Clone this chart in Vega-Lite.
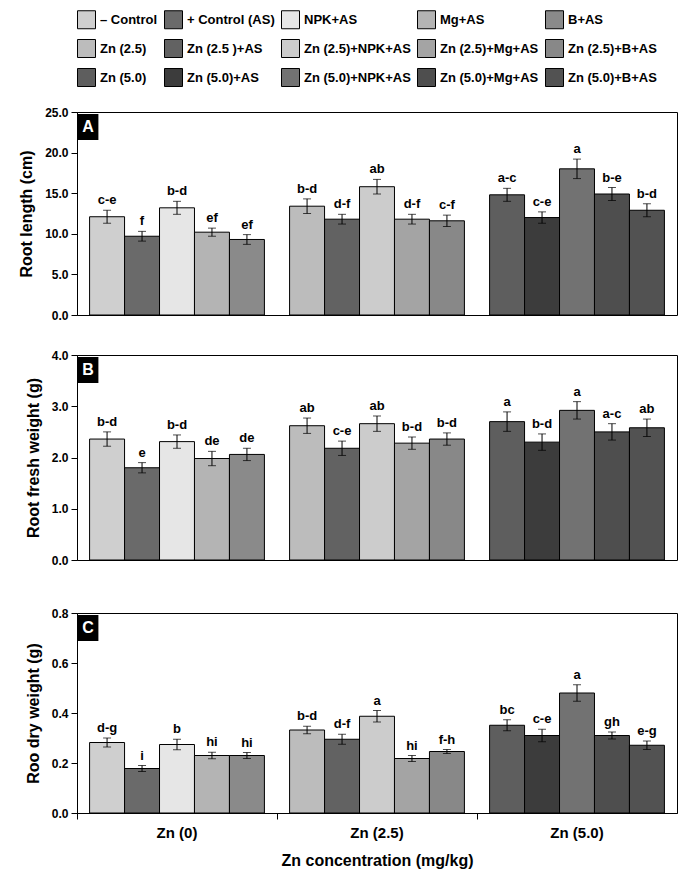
{
"$schema": "https://vega.github.io/schema/vega-lite/v6.json",
"padding": {"left": 18, "top": 10, "right": 5, "bottom": 5},
"autosize": {"type": "pad"},
"background": "#ffffff",
"datasets": {"d": [
{"p":"A","dose":"Zn (0)","trt":"C","combo":"– Control","mean":12.1,"lo":11.3,"hi":12.9,"sig":"c-e"},
{"p":"A","dose":"Zn (0)","trt":"AS","combo":"+ Control (AS)","mean":9.7,"lo":9.1,"hi":10.3,"sig":"f"},
{"p":"A","dose":"Zn (0)","trt":"NPK","combo":"NPK+AS","mean":13.2,"lo":12.4,"hi":14.0,"sig":"b-d"},
{"p":"A","dose":"Zn (0)","trt":"Mg","combo":"Mg+AS","mean":10.2,"lo":9.7,"hi":10.7,"sig":"ef"},
{"p":"A","dose":"Zn (0)","trt":"B","combo":"B+AS","mean":9.3,"lo":8.7,"hi":9.9,"sig":"ef"},
{"p":"A","dose":"Zn (2.5)","trt":"C","combo":"Zn (2.5)","mean":13.4,"lo":12.5,"hi":14.3,"sig":"b-d"},
{"p":"A","dose":"Zn (2.5)","trt":"AS","combo":"Zn (2.5 )+AS","mean":11.8,"lo":11.2,"hi":12.4,"sig":"d-f"},
{"p":"A","dose":"Zn (2.5)","trt":"NPK","combo":"Zn (2.5)+NPK+AS","mean":15.8,"lo":14.9,"hi":16.7,"sig":"ab"},
{"p":"A","dose":"Zn (2.5)","trt":"Mg","combo":"Zn (2.5)+Mg+AS","mean":11.8,"lo":11.2,"hi":12.4,"sig":"d-f"},
{"p":"A","dose":"Zn (2.5)","trt":"B","combo":"Zn (2.5)+B+AS","mean":11.6,"lo":10.9,"hi":12.3,"sig":"c-f"},
{"p":"A","dose":"Zn (5.0)","trt":"C","combo":"Zn (5.0)","mean":14.8,"lo":14.0,"hi":15.6,"sig":"a-c"},
{"p":"A","dose":"Zn (5.0)","trt":"AS","combo":"Zn (5.0)+AS","mean":12.0,"lo":11.3,"hi":12.7,"sig":"c-e"},
{"p":"A","dose":"Zn (5.0)","trt":"NPK","combo":"Zn (5.0)+NPK+AS","mean":18.0,"lo":16.8,"hi":19.2,"sig":"a"},
{"p":"A","dose":"Zn (5.0)","trt":"Mg","combo":"Zn (5.0)+Mg+AS","mean":14.9,"lo":14.1,"hi":15.7,"sig":"b-e"},
{"p":"A","dose":"Zn (5.0)","trt":"B","combo":"Zn (5.0)+B+AS","mean":12.9,"lo":12.1,"hi":13.7,"sig":"b-d"},
{"p":"B","dose":"Zn (0)","trt":"C","combo":"– Control","mean":2.36,"lo":2.22,"hi":2.50,"sig":"b-d"},
{"p":"B","dose":"Zn (0)","trt":"AS","combo":"+ Control (AS)","mean":1.80,"lo":1.70,"hi":1.90,"sig":"e"},
{"p":"B","dose":"Zn (0)","trt":"NPK","combo":"NPK+AS","mean":2.31,"lo":2.18,"hi":2.44,"sig":"b-d"},
{"p":"B","dose":"Zn (0)","trt":"Mg","combo":"Mg+AS","mean":1.98,"lo":1.84,"hi":2.12,"sig":"de"},
{"p":"B","dose":"Zn (0)","trt":"B","combo":"B+AS","mean":2.06,"lo":1.94,"hi":2.18,"sig":"de"},
{"p":"B","dose":"Zn (2.5)","trt":"C","combo":"Zn (2.5)","mean":2.62,"lo":2.47,"hi":2.77,"sig":"ab"},
{"p":"B","dose":"Zn (2.5)","trt":"AS","combo":"Zn (2.5 )+AS","mean":2.18,"lo":2.04,"hi":2.32,"sig":"c-e"},
{"p":"B","dose":"Zn (2.5)","trt":"NPK","combo":"Zn (2.5)+NPK+AS","mean":2.66,"lo":2.51,"hi":2.81,"sig":"ab"},
{"p":"B","dose":"Zn (2.5)","trt":"Mg","combo":"Zn (2.5)+Mg+AS","mean":2.28,"lo":2.16,"hi":2.40,"sig":"b-d"},
{"p":"B","dose":"Zn (2.5)","trt":"B","combo":"Zn (2.5)+B+AS","mean":2.36,"lo":2.24,"hi":2.48,"sig":"b-d"},
{"p":"B","dose":"Zn (5.0)","trt":"C","combo":"Zn (5.0)","mean":2.70,"lo":2.51,"hi":2.89,"sig":"a"},
{"p":"B","dose":"Zn (5.0)","trt":"AS","combo":"Zn (5.0)+AS","mean":2.30,"lo":2.14,"hi":2.46,"sig":"b-d"},
{"p":"B","dose":"Zn (5.0)","trt":"NPK","combo":"Zn (5.0)+NPK+AS","mean":2.92,"lo":2.75,"hi":3.09,"sig":"a"},
{"p":"B","dose":"Zn (5.0)","trt":"Mg","combo":"Zn (5.0)+Mg+AS","mean":2.50,"lo":2.34,"hi":2.66,"sig":"a-c"},
{"p":"B","dose":"Zn (5.0)","trt":"B","combo":"Zn (5.0)+B+AS","mean":2.58,"lo":2.41,"hi":2.75,"sig":"ab"},
{"p":"C","dose":"Zn (0)","trt":"C","combo":"– Control","mean":0.282,"lo":0.264,"hi":0.300,"sig":"d-g"},
{"p":"C","dose":"Zn (0)","trt":"AS","combo":"+ Control (AS)","mean":0.178,"lo":0.166,"hi":0.190,"sig":"i"},
{"p":"C","dose":"Zn (0)","trt":"NPK","combo":"NPK+AS","mean":0.274,"lo":0.253,"hi":0.295,"sig":"b"},
{"p":"C","dose":"Zn (0)","trt":"Mg","combo":"Mg+AS","mean":0.230,"lo":0.217,"hi":0.243,"sig":"hi"},
{"p":"C","dose":"Zn (0)","trt":"B","combo":"B+AS","mean":0.230,"lo":0.218,"hi":0.242,"sig":"hi"},
{"p":"C","dose":"Zn (2.5)","trt":"C","combo":"Zn (2.5)","mean":0.332,"lo":0.317,"hi":0.347,"sig":"b-d"},
{"p":"C","dose":"Zn (2.5)","trt":"AS","combo":"Zn (2.5 )+AS","mean":0.295,"lo":0.275,"hi":0.315,"sig":"d-f"},
{"p":"C","dose":"Zn (2.5)","trt":"NPK","combo":"Zn (2.5)+NPK+AS","mean":0.387,"lo":0.364,"hi":0.410,"sig":"a"},
{"p":"C","dose":"Zn (2.5)","trt":"Mg","combo":"Zn (2.5)+Mg+AS","mean":0.218,"lo":0.206,"hi":0.230,"sig":"hi"},
{"p":"C","dose":"Zn (2.5)","trt":"B","combo":"Zn (2.5)+B+AS","mean":0.246,"lo":0.238,"hi":0.254,"sig":"f-h"},
{"p":"C","dose":"Zn (5.0)","trt":"C","combo":"Zn (5.0)","mean":0.351,"lo":0.329,"hi":0.373,"sig":"bc"},
{"p":"C","dose":"Zn (5.0)","trt":"AS","combo":"Zn (5.0)+AS","mean":0.310,"lo":0.285,"hi":0.335,"sig":"c-e"},
{"p":"C","dose":"Zn (5.0)","trt":"NPK","combo":"Zn (5.0)+NPK+AS","mean":0.480,"lo":0.447,"hi":0.513,"sig":"a"},
{"p":"C","dose":"Zn (5.0)","trt":"Mg","combo":"Zn (5.0)+Mg+AS","mean":0.310,"lo":0.296,"hi":0.324,"sig":"gh"},
{"p":"C","dose":"Zn (5.0)","trt":"B","combo":"Zn (5.0)+B+AS","mean":0.271,"lo":0.254,"hi":0.288,"sig":"e-g"}
]},
"config": {
  "font": "Liberation Sans, Arial, sans-serif",
  "view": {"stroke": "#000000", "strokeWidth": 1},
  "axis": {"domainColor": "#000000", "tickColor": "#000000", "labelColor": "#000000", "titleColor": "#000000", "labelFontWeight": "bold", "labelFontSize": 12, "grid": false, "tickSize": 6, "labelPadding": 3, "titleFontWeight": "bold", "titleFontSize": 16, "titlePadding": 10},
  "legend": {"orient": "none", "legendX": 0, "legendY": -102, "direction": "horizontal", "columns": 5, "symbolType": "square", "symbolSize": 324, "symbolStrokeColor": "#000000", "symbolStrokeWidth": 1, "labelFontSize": 13, "labelFontWeight": "bold", "labelColor": "#000000", "rowPadding": 6, "columnPadding": 4, "labelOffset": 4, "gridAlign": "each", "labelLimit": 300}
},
"spacing": 26,
"vconcat": [
{
 "width": 600, "height": 203,
 "data": {"name": "d"},
 "transform": [{"filter": "datum.p === 'A'"}],
 "encoding": {"x": {"field": "dose", "type": "nominal", "sort": ["Zn (0)", "Zn (2.5)", "Zn (5.0)"], "scale": {"paddingInner": 0, "paddingOuter": 0}, "axis": null}},
 "layer": [
  {"mark": {"type": "bar", "stroke": "#000000", "strokeWidth": 1},
   "encoding": {
    "xOffset": {"field": "trt", "type": "nominal", "sort": ["C", "AS", "NPK", "Mg", "B"], "scale": {"paddingInner": 0, "paddingOuter": 0.36}},
    "y": {"field": "mean", "type": "quantitative", "title": "Root length (cm)", "scale": {"domain": [0, 25], "nice": false}, "axis": {"title": "Root length (cm)", "format": ".1f", "values": [0, 5, 10, 15, 20, 25]}},
    "color": {"field": "combo", "type": "nominal", "legend": {"title": null},
      "scale": {"domain": ["– Control", "+ Control (AS)", "NPK+AS", "Mg+AS", "B+AS", "Zn (2.5)", "Zn (2.5 )+AS", "Zn (2.5)+NPK+AS", "Zn (2.5)+Mg+AS", "Zn (2.5)+B+AS", "Zn (5.0)", "Zn (5.0)+AS", "Zn (5.0)+NPK+AS", "Zn (5.0)+Mg+AS", "Zn (5.0)+B+AS"],
                "range": ["#cfcfcf", "#6a6a6a", "#e6e6e6", "#b4b4b4", "#8a8a8a", "#bcbcbc", "#626262", "#cccccc", "#a4a4a4", "#888888", "#5e5e5e", "#3c3c3c", "#727272", "#4e4e4e", "#525252"]}}}},
  {"mark": {"type": "rule", "color": "#000000", "strokeWidth": 1},
   "encoding": {"xOffset": {"field": "trt", "type": "nominal", "sort": ["C", "AS", "NPK", "Mg", "B"]}, "y": {"field": "lo", "type": "quantitative", "title": "Root length (cm)"}, "y2": {"field": "hi"}}},
  {"mark": {"type": "tick", "color": "#000000", "thickness": 1},
   "encoding": {"xOffset": {"field": "trt", "type": "nominal", "sort": ["C", "AS", "NPK", "Mg", "B"]}, "y": {"field": "lo", "type": "quantitative", "title": "Root length (cm)"}, "size": {"value": 8}}},
  {"mark": {"type": "tick", "color": "#000000", "thickness": 1},
   "encoding": {"xOffset": {"field": "trt", "type": "nominal", "sort": ["C", "AS", "NPK", "Mg", "B"]}, "y": {"field": "hi", "type": "quantitative", "title": "Root length (cm)"}, "size": {"value": 8}}},
  {"mark": {"type": "text", "baseline": "bottom", "dy": -3, "fontWeight": "bold", "fontSize": 13, "color": "#000000"},
   "encoding": {"xOffset": {"field": "trt", "type": "nominal", "sort": ["C", "AS", "NPK", "Mg", "B"]}, "y": {"field": "hi", "type": "quantitative", "title": "Root length (cm)"}, "text": {"field": "sig"}}},
  {"data": {"values": [{"p": "A", "dose": "Zn (0)", "top": 25, "letter": "A"}]},
   "mark": {"type": "point", "shape": "M-0.8,-1H0.8V1H-0.8Z", "filled": true, "color": "#000000", "opacity": 1, "size": 676, "xOffset": 11, "yOffset": 15},
   "encoding": {"x": {"field": "dose", "type": "nominal", "sort": ["Zn (0)", "Zn (2.5)", "Zn (5.0)"], "bandPosition": 0, "title": null}, "y": {"field": "top", "type": "quantitative", "title": "Root length (cm)"}}},
  {"data": {"values": [{"p": "A", "dose": "Zn (0)", "top": 25, "letter": "A"}]},
   "mark": {"type": "text", "color": "#ffffff", "fontWeight": "bold", "fontSize": 16, "align": "center", "baseline": "middle", "xOffset": 11, "yOffset": 15},
   "encoding": {"x": {"field": "dose", "type": "nominal", "sort": ["Zn (0)", "Zn (2.5)", "Zn (5.0)"], "bandPosition": 0, "title": null}, "y": {"field": "top", "type": "quantitative", "title": "Root length (cm)"}, "text": {"field": "letter"}}}
 ]
},
{
 "spacing": 39,
 "vconcat": [
 {
 "width": 600, "height": 205,
 "data": {"name": "d"},
 "transform": [{"filter": "datum.p === 'B'"}],
 "encoding": {"x": {"field": "dose", "type": "nominal", "sort": ["Zn (0)", "Zn (2.5)", "Zn (5.0)"], "scale": {"paddingInner": 0, "paddingOuter": 0}, "axis": null}},
 "layer": [
  {"mark": {"type": "bar", "stroke": "#000000", "strokeWidth": 1},
   "encoding": {
    "xOffset": {"field": "trt", "type": "nominal", "sort": ["C", "AS", "NPK", "Mg", "B"], "scale": {"paddingInner": 0, "paddingOuter": 0.36}},
    "y": {"field": "mean", "type": "quantitative", "title": "Root fresh weight (g)", "scale": {"domain": [0, 4], "nice": false}, "axis": {"title": "Root fresh weight (g)", "format": ".1f", "values": [0, 1, 2, 3, 4]}},
    "color": {"field": "combo", "type": "nominal", "legend": {"title": null},
      "scale": {"domain": ["– Control", "+ Control (AS)", "NPK+AS", "Mg+AS", "B+AS", "Zn (2.5)", "Zn (2.5 )+AS", "Zn (2.5)+NPK+AS", "Zn (2.5)+Mg+AS", "Zn (2.5)+B+AS", "Zn (5.0)", "Zn (5.0)+AS", "Zn (5.0)+NPK+AS", "Zn (5.0)+Mg+AS", "Zn (5.0)+B+AS"],
                "range": ["#cfcfcf", "#6a6a6a", "#e6e6e6", "#b4b4b4", "#8a8a8a", "#bcbcbc", "#626262", "#cccccc", "#a4a4a4", "#888888", "#5e5e5e", "#3c3c3c", "#727272", "#4e4e4e", "#525252"]}}}},
  {"mark": {"type": "rule", "color": "#000000", "strokeWidth": 1},
   "encoding": {"xOffset": {"field": "trt", "type": "nominal", "sort": ["C", "AS", "NPK", "Mg", "B"]}, "y": {"field": "lo", "type": "quantitative", "title": "Root fresh weight (g)"}, "y2": {"field": "hi"}}},
  {"mark": {"type": "tick", "color": "#000000", "thickness": 1},
   "encoding": {"xOffset": {"field": "trt", "type": "nominal", "sort": ["C", "AS", "NPK", "Mg", "B"]}, "y": {"field": "lo", "type": "quantitative", "title": "Root fresh weight (g)"}, "size": {"value": 8}}},
  {"mark": {"type": "tick", "color": "#000000", "thickness": 1},
   "encoding": {"xOffset": {"field": "trt", "type": "nominal", "sort": ["C", "AS", "NPK", "Mg", "B"]}, "y": {"field": "hi", "type": "quantitative", "title": "Root fresh weight (g)"}, "size": {"value": 8}}},
  {"mark": {"type": "text", "baseline": "bottom", "dy": -3, "fontWeight": "bold", "fontSize": 13, "color": "#000000"},
   "encoding": {"xOffset": {"field": "trt", "type": "nominal", "sort": ["C", "AS", "NPK", "Mg", "B"]}, "y": {"field": "hi", "type": "quantitative", "title": "Root fresh weight (g)"}, "text": {"field": "sig"}}},
  {"data": {"values": [{"p": "B", "dose": "Zn (0)", "top": 4, "letter": "B"}]},
   "mark": {"type": "point", "shape": "M-0.8,-1H0.8V1H-0.8Z", "filled": true, "color": "#000000", "opacity": 1, "size": 676, "xOffset": 11, "yOffset": 15},
   "encoding": {"x": {"field": "dose", "type": "nominal", "sort": ["Zn (0)", "Zn (2.5)", "Zn (5.0)"], "bandPosition": 0, "title": null}, "y": {"field": "top", "type": "quantitative", "title": "Root fresh weight (g)"}}},
  {"data": {"values": [{"p": "B", "dose": "Zn (0)", "top": 4, "letter": "B"}]},
   "mark": {"type": "text", "color": "#ffffff", "fontWeight": "bold", "fontSize": 16, "align": "center", "baseline": "middle", "xOffset": 11, "yOffset": 15},
   "encoding": {"x": {"field": "dose", "type": "nominal", "sort": ["Zn (0)", "Zn (2.5)", "Zn (5.0)"], "bandPosition": 0, "title": null}, "y": {"field": "top", "type": "quantitative", "title": "Root fresh weight (g)"}, "text": {"field": "letter"}}}
 ]
 },
 {
 "width": 600, "height": 200,
 "data": {"name": "d"},
 "transform": [{"filter": "datum.p === 'C'"}],
 "encoding": {"x": {"field": "dose", "type": "nominal", "sort": ["Zn (0)", "Zn (2.5)", "Zn (5.0)"], "title": "Zn concentration (mg/kg)", "scale": {"paddingInner": 0, "paddingOuter": 0}, "axis": {"title": "Zn concentration (mg/kg)", "labelAngle": 0, "labelFontSize": 15, "labelPadding": 6, "titleFontSize": 16, "titlePadding": 12, "bandPosition": 0}}},
 "layer": [
  {"mark": {"type": "bar", "stroke": "#000000", "strokeWidth": 1},
   "encoding": {
    "xOffset": {"field": "trt", "type": "nominal", "sort": ["C", "AS", "NPK", "Mg", "B"], "scale": {"paddingInner": 0, "paddingOuter": 0.36}},
    "y": {"field": "mean", "type": "quantitative", "title": "Roo dry weight (g)", "scale": {"domain": [0, 0.8], "nice": false}, "axis": {"title": "Roo dry weight (g)", "format": ".1f", "values": [0, 0.2, 0.4, 0.6, 0.8]}},
    "color": {"field": "combo", "type": "nominal", "legend": {"title": null},
      "scale": {"domain": ["– Control", "+ Control (AS)", "NPK+AS", "Mg+AS", "B+AS", "Zn (2.5)", "Zn (2.5 )+AS", "Zn (2.5)+NPK+AS", "Zn (2.5)+Mg+AS", "Zn (2.5)+B+AS", "Zn (5.0)", "Zn (5.0)+AS", "Zn (5.0)+NPK+AS", "Zn (5.0)+Mg+AS", "Zn (5.0)+B+AS"],
                "range": ["#cfcfcf", "#6a6a6a", "#e6e6e6", "#b4b4b4", "#8a8a8a", "#bcbcbc", "#626262", "#cccccc", "#a4a4a4", "#888888", "#5e5e5e", "#3c3c3c", "#727272", "#4e4e4e", "#525252"]}}}},
  {"mark": {"type": "rule", "color": "#000000", "strokeWidth": 1},
   "encoding": {"xOffset": {"field": "trt", "type": "nominal", "sort": ["C", "AS", "NPK", "Mg", "B"]}, "y": {"field": "lo", "type": "quantitative", "title": "Roo dry weight (g)"}, "y2": {"field": "hi"}}},
  {"mark": {"type": "tick", "color": "#000000", "thickness": 1},
   "encoding": {"xOffset": {"field": "trt", "type": "nominal", "sort": ["C", "AS", "NPK", "Mg", "B"]}, "y": {"field": "lo", "type": "quantitative", "title": "Roo dry weight (g)"}, "size": {"value": 8}}},
  {"mark": {"type": "tick", "color": "#000000", "thickness": 1},
   "encoding": {"xOffset": {"field": "trt", "type": "nominal", "sort": ["C", "AS", "NPK", "Mg", "B"]}, "y": {"field": "hi", "type": "quantitative", "title": "Roo dry weight (g)"}, "size": {"value": 8}}},
  {"mark": {"type": "text", "baseline": "bottom", "dy": -3, "fontWeight": "bold", "fontSize": 13, "color": "#000000"},
   "encoding": {"xOffset": {"field": "trt", "type": "nominal", "sort": ["C", "AS", "NPK", "Mg", "B"]}, "y": {"field": "hi", "type": "quantitative", "title": "Roo dry weight (g)"}, "text": {"field": "sig"}}},
  {"data": {"values": [{"p": "C", "dose": "Zn (0)", "top": 0.8, "letter": "C"}]},
   "mark": {"type": "point", "shape": "M-0.8,-1H0.8V1H-0.8Z", "filled": true, "color": "#000000", "opacity": 1, "size": 676, "xOffset": 11, "yOffset": 15},
   "encoding": {"x": {"field": "dose", "type": "nominal", "sort": ["Zn (0)", "Zn (2.5)", "Zn (5.0)"], "bandPosition": 0, "title": "Zn concentration (mg/kg)"}, "y": {"field": "top", "type": "quantitative", "title": "Roo dry weight (g)"}}},
  {"data": {"values": [{"p": "C", "dose": "Zn (0)", "top": 0.8, "letter": "C"}]},
   "mark": {"type": "text", "color": "#ffffff", "fontWeight": "bold", "fontSize": 16, "align": "center", "baseline": "middle", "xOffset": 11, "yOffset": 15},
   "encoding": {"x": {"field": "dose", "type": "nominal", "sort": ["Zn (0)", "Zn (2.5)", "Zn (5.0)"], "bandPosition": 0, "title": "Zn concentration (mg/kg)"}, "y": {"field": "top", "type": "quantitative", "title": "Roo dry weight (g)"}, "text": {"field": "letter"}}}
 ]
 }
 ]
}
]
}
